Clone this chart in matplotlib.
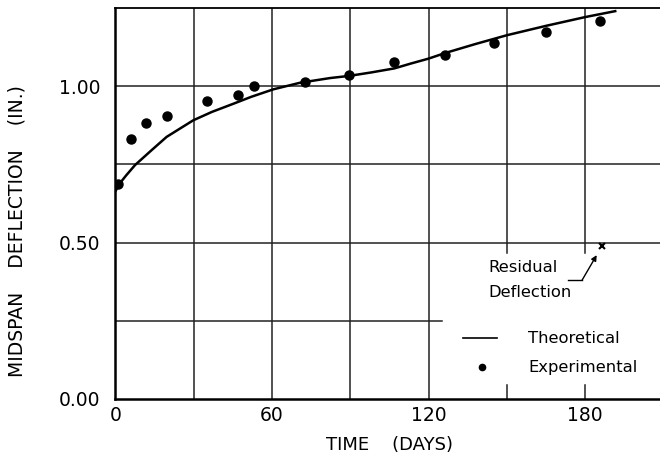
import matplotlib
matplotlib.use("Agg")
import matplotlib.pyplot as plt

# Theoretical curve (days, deflection in.)
theory_days = [0, 2, 4, 7.5, 13.9, 19.6, 29.8, 37, 45.2, 52, 60.5, 70.7, 82.2,
               89.6, 98, 106.9, 113, 119.9, 126.3, 138, 150, 165, 180, 191.5]
theory_defl = [0.665, 0.693, 0.714, 0.748, 0.796, 0.838, 0.891, 0.918, 0.944,
               0.966, 0.990, 1.011, 1.026, 1.033, 1.044, 1.057, 1.072, 1.088,
               1.106, 1.135, 1.163, 1.193, 1.221, 1.240]

# Experimental points
exp_days = [1, 6, 11.6, 19.7, 35.1, 47.1, 53.1, 72.8, 89.6, 106.9, 126.3,
            145.2, 164.9, 185.7]
exp_defl = [0.688, 0.831, 0.881, 0.905, 0.953, 0.973, 1.002, 1.015, 1.035,
            1.076, 1.099, 1.138, 1.173, 1.209]

# Residual deflection
resid_day = [186.5]
resid_defl = [0.489]

x_ticks = [0, 60, 120, 180]
x_ticklabels = ["0", "60", "120", "180"]
y_ticks = [0.0, 0.5, 1.0]
y_ticklabels = ["0.00", "0.50", "1.00"]

plt.rcParams['font.family'] = ['DejaVu Sans']

fig = plt.figure(figsize=(6.6, 4.55), dpi=100)
ax = fig.add_axes([115.5 / 660, 56 / 455, 548 / 660, 391 / 455])
ax.set_xlim(0, 210)
ax.set_ylim(0, 1.25)

lw_grid = 1.1
gc = "#222222"
# vertical grid lines
for d in [30, 60, 90, 120]:
    ax.axvline(d, color=gc, lw=lw_grid, zorder=1)
for d in [150, 180]:
    ax.axvline(d, ymin=0.466 / 1.25, ymax=1, color=gc, lw=lw_grid, zorder=1)
    ax.axvline(d, ymin=0, ymax=0.045 / 1.25, color=gc, lw=lw_grid, zorder=1)
# horizontal grid lines
for v in [0.5, 0.75, 1.0]:
    ax.axhline(v, color=gc, lw=lw_grid, zorder=1)
ax.axhline(0.25, xmin=0, xmax=125 / 210, color=gc, lw=lw_grid, zorder=1)

ax.plot(theory_days, theory_defl, color="black", lw=1.8, zorder=3)
ax.plot(exp_days, exp_defl, 'o', color="black", ms=6.5, zorder=4)
ax.plot(resid_day, resid_defl, 'x', color="black", ms=4.5, mew=1.5, zorder=4)

fs_ann = 11.8
# annotation
ax.text(142.8, 0.419, "Residual", fontsize=fs_ann, ha="left", va="center")
ax.text(142.8, 0.342, "Deflection", fontsize=fs_ann, ha="left", va="center")
ax.plot([173.4, 178.8], [0.380, 0.380], color="black", lw=1.0)
ax.annotate("", xy=(184.4, 0.46), xytext=(178.8, 0.380),
            arrowprops=dict(arrowstyle="-|>", color="black", lw=1.0,
                            mutation_scale=8, shrinkA=0, shrinkB=0))

# legend
ax.plot([133.2, 146.3], [0.195, 0.195], color="black", lw=1.2)
ax.text(158.1, 0.195, "Theoretical", fontsize=fs_ann, ha="left", va="center")
ax.plot([140.5], [0.102], 'o', color="black", ms=4.5)
ax.text(158.1, 0.102, "Experimental", fontsize=fs_ann, ha="left", va="center")

for s in ["left", "bottom", "top"]:
    ax.spines[s].set_linewidth(1.8)
ax.spines["top"].set_linewidth(1.3)
ax.spines["right"].set_visible(False)

ax.set_xticks(x_ticks)
ax.set_xticklabels(x_ticklabels, fontsize=13.5)
ax.set_yticks(y_ticks)
ax.set_yticklabels(y_ticklabels, fontsize=13.5)
ax.tick_params(axis="y", length=0, pad=11)
ax.tick_params(axis="x", length=0, pad=5)

ax.set_xlabel("TIME    (DAYS)", fontsize=13)
ax.xaxis.set_label_coords(0.5, -0.095)
ax.set_ylabel("MIDSPAN    DEFLECTION    (IN.)", fontsize=13.5)
ax.yaxis.set_label_coords(-0.163, 0.43)

fig.savefig("out.png", dpi=100)
